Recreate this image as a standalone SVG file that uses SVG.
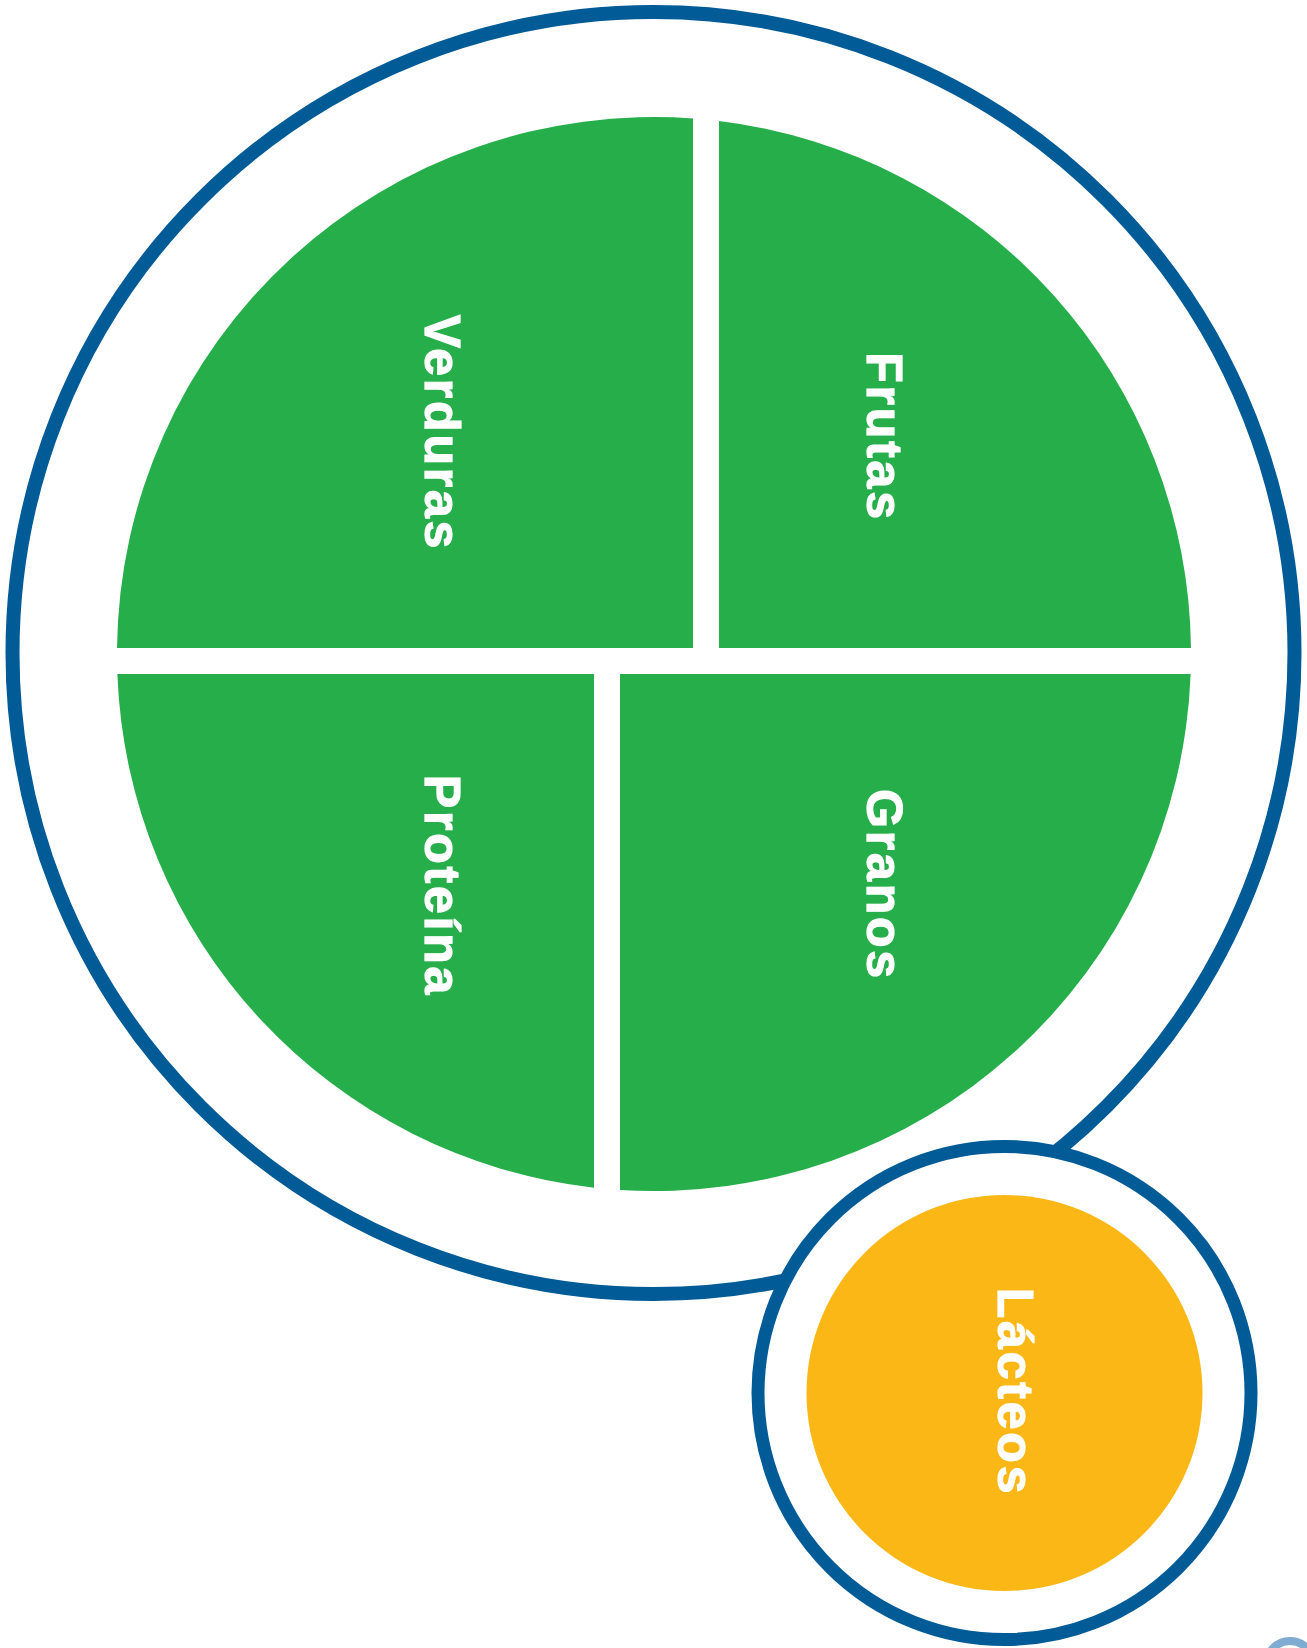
<svg xmlns="http://www.w3.org/2000/svg" width="1307" height="1648" viewBox="0 0 1307 1648">
<style>
.slice{fill:#25ae4a;}
.lbl{fill:#ffffff;stroke:#ffffff;stroke-width:1.2px;font-family:"Liberation Sans",Arial,"Noto Sans",sans-serif;font-weight:900;font-size:50px;letter-spacing:2.8px;text-anchor:middle;}
.ring{fill:#ffffff;stroke:#005b97;}
</style>
<rect width="1307" height="1648" fill="#ffffff"/>
<g id="plate">
<circle class="ring" cx="653.5" cy="653" r="641" stroke-width="14"/>
</g>
<g id="verduras">
<path class="slice" d="M117.03,648 A537,537 0 0,1 693,118.42 L693,648 Z"/>
<text class="lbl" font-weight="bold" transform="translate(425,433) rotate(90)">Verduras</text>
</g>
<g id="frutas">
<path class="slice" d="M719,120.95 A537,537 0 0,1 1190.97,648 L719,648 Z"/>
<text class="lbl" font-weight="bold" transform="translate(867,437) rotate(90)">Frutas</text>
</g>
<g id="granos">
<path class="slice" d="M1190.63,674 A537,537 0 0,1 620,1189.92 L620,674 Z"/>
<text class="lbl" font-weight="bold" transform="translate(867,885) rotate(90)">Granos</text>
</g>
<g id="proteina">
<path class="slice" d="M594,1187.64 A537,537 0 0,1 117.37,674 L594,674 Z"/>
<text class="lbl" font-weight="bold" transform="translate(425,886) rotate(90)">Proteína</text>
</g>
<g id="lacteos">
<circle class="ring" cx="1004.5" cy="1393" r="246.5" stroke-width="13"/>
<circle cx="1004.5" cy="1393" r="198" fill="#fbb716"/>
<text class="lbl" font-weight="bold" transform="translate(998,1392) rotate(90)">Lácteos</text>
</g>
<g id="corner-icon">
<circle cx="1290" cy="1664.5" r="23.5" fill="#ffffff" stroke="#7fabd0" stroke-width="8"/>
</g>
</svg>
